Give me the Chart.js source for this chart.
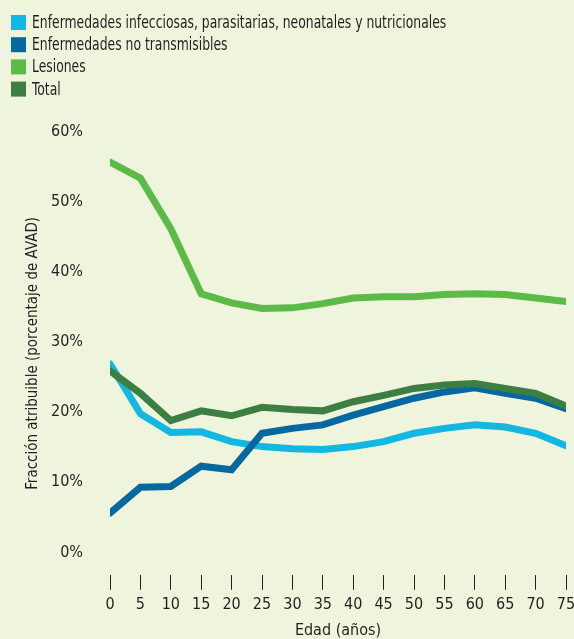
<!DOCTYPE html>
<html>
<head>
<meta charset="utf-8">
<script src="https://cdn.jsdelivr.net/npm/chart.js@4"></script>
<style>
  html, body { margin: 0; padding: 0; background: #eff5dc; }
  #wrap { width: 574px; height: 639px; position: relative; }
</style>
</head>
<body>
<div id="wrap"><canvas id="chart"></canvas></div>
<script>
// --- data ---
const ages = [0, 5, 10, 15, 20, 25, 30, 35, 40, 45, 50, 55, 60, 65, 70, 75];
const infecciosas = [26.9, 19.8, 17.1, 17.2, 15.8, 15.1, 14.8, 14.7, 15.1, 15.8, 17.0, 17.7, 18.2, 17.9, 17.0, 15.2];
const noTransmisibles = [5.6, 9.3, 9.4, 12.3, 11.8, 17.0, 17.7, 18.2, 19.6, 20.8, 22.0, 22.9, 23.5, 22.7, 22.0, 20.5];
const lesiones = [55.7, 53.4, 46.2, 36.9, 35.6, 34.8, 34.9, 35.5, 36.3, 36.5, 36.5, 36.8, 36.9, 36.8, 36.3, 35.8];
const total = [25.9, 22.7, 18.8, 20.2, 19.5, 20.7, 20.4, 20.2, 21.5, 22.4, 23.4, 23.9, 24.1, 23.4, 22.7, 20.9];
const yTicks = [0, 10, 20, 30, 40, 50, 60];

const seriesNames = [
  'Enfermedades infecciosas, parasitarias, neonatales y nutricionales',
  'Enfermedades no transmisibles',
  'Lesiones',
  'Total'
];
const seriesColors = ['#12b8e2', '#0568a0', '#5cba47', '#3d7f42'];
const seriesData = [infecciosas, noTransmisibles, lesiones, total];

const FONT = "'Liberation Sans Narrow', 'DejaVu Sans Condensed', 'Roboto', sans-serif";
const TEXT = '#231f20';

function toPoints(vals) {
  return vals.map((v, i) => ({ x: ages[i], y: v }));
}

// legend drawn on the canvas as a stacked list, top-left
// (text squeezed a bit horizontally, the original face is a condensed one)
const stackedLegend = {
  id: 'stackedLegend',
  afterDraw(chart) {
    const ctx = chart.ctx;
    ctx.save();
    ctx.font = '17px ' + FONT;
    ctx.textBaseline = 'middle';
    chart.data.datasets.forEach((ds, i) => {
      const cy = 22.5 + i * 22.2;
      ctx.fillStyle = ds.borderColor;
      ctx.fillRect(11, cy - 7.5, 15, 15);
      ctx.fillStyle = TEXT;
      ctx.save();
      ctx.translate(32, cy + 1);
      ctx.scale(0.81, 1);
      ctx.fillText(ds.label, 0, 0);
      ctx.restore();
    });
    ctx.restore();
  }
};

const datasets = seriesNames.map((name, i) => ({
  label: name,
  data: toPoints(seriesData[i]),
  borderColor: seriesColors[i],
  backgroundColor: seriesColors[i],
  borderWidth: 7,
  borderCapStyle: 'round',
  borderJoinStyle: 'miter',
  pointRadius: 0,
  tension: 0,
  order: seriesNames.length - i
}));

new Chart(document.getElementById('chart'), {
  type: 'line',
  data: { datasets: datasets },
  options: {
    responsive: true,
    maintainAspectRatio: false,
    animation: false,
    layout: { padding: { top: 132, right: 0, left: 0, bottom: 0 } },
    plugins: {
      legend: { display: false },
      tooltip: { enabled: false }
    },
    scales: {
      x: {
        type: 'linear',
        min: 0,
        max: 75,
        border: { display: false },
        grid: { drawOnChartArea: false, drawTicks: true, tickLength: 15, color: TEXT, lineWidth: 1 },
        afterFit(scale) {
          scale.paddingLeft = 0;
          scale.paddingRight = 8;
        },
        ticks: { stepSize: 5, padding: 5, color: TEXT, font: { family: FONT, size: 16 } },
        title: { display: true, text: 'Edad (años)', color: TEXT, padding: { top: 4, bottom: 0 }, font: { family: FONT, size: 16, lineHeight: 1 } }
      },
      y: {
        min: -3.2,
        max: 60,
        border: { display: false },
        grid: { display: false, drawTicks: false },
        afterBuildTicks(scale) {
          scale.ticks = yTicks.map(v => ({ value: v }));
        },
        afterFit(scale) {
          scale.width = 110;
        },
        ticks: {
          padding: 27,
          color: TEXT,
          font: { family: FONT, size: 16 },
          callback: v => v + '%'
        },
        title: { display: true, text: 'Fracción atribuible (porcentaje de AVAD)', color: TEXT, padding: { top: 24, bottom: 0 }, font: { family: FONT, size: 15 } }
      }
    }
  },
  plugins: [stackedLegend]
});
</script>
</body>
</html>
